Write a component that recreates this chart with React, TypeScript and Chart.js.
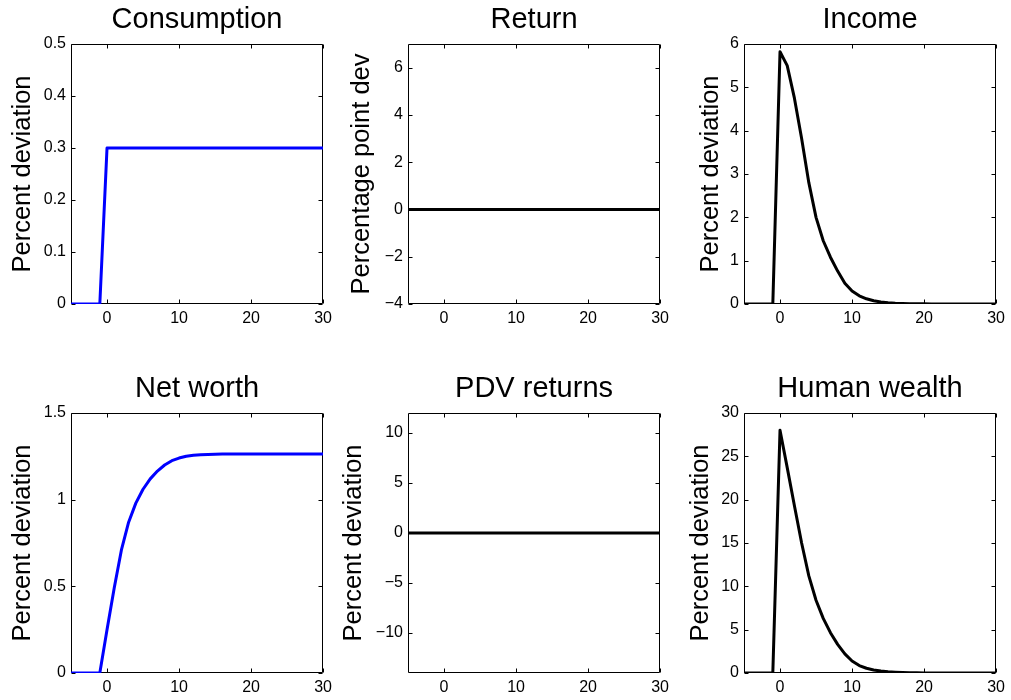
import React, { useEffect, useRef } from 'react';
import { Chart, registerables } from 'chart.js';

Chart.register(...registerables);
Chart.defaults.font.family = "'Liberation Sans', Arial, Helvetica, sans-serif";
Chart.defaults.color = '#000';

// ---- data ----
const periods = [-5, -4, -3, -2, -1, 0, 1, 2, 3, 4, 5, 6, 7, 8, 9, 10, 11, 12, 13, 14, 15, 16, 17, 18, 19, 20, 21, 22, 23, 24, 25, 26, 27, 28, 29, 30];

const consumption = [0, 0, 0, 0, 0, 0.3, 0.3, 0.3, 0.3, 0.3, 0.3, 0.3, 0.3, 0.3, 0.3, 0.3, 0.3, 0.3, 0.3, 0.3, 0.3, 0.3, 0.3, 0.3, 0.3, 0.3, 0.3, 0.3, 0.3, 0.3, 0.3, 0.3, 0.3, 0.3, 0.3, 0.3];

const returnDev = [0, 0, 0, 0, 0, 0, 0, 0, 0, 0, 0, 0, 0, 0, 0, 0, 0, 0, 0, 0, 0, 0, 0, 0, 0, 0, 0, 0, 0, 0, 0, 0, 0, 0, 0, 0];

const income = [0, 0, 0, 0, 0, 5.82, 5.5, 4.75, 3.82, 2.8, 2.0, 1.46, 1.08, 0.76, 0.48, 0.3, 0.19, 0.12, 0.075, 0.047, 0.03, 0.019, 0.012, 0.008, 0.005, 0.003, 0.002, 0.001, 0.001, 0.0005, 0.0003, 0.0002, 0.0001, 0.0001, 0, 0];

const netWorth = [0, 0, 0, 0, 0, 0.25, 0.49, 0.71, 0.87, 0.98, 1.06, 1.12, 1.165, 1.2, 1.225, 1.24, 1.25, 1.256, 1.259, 1.261, 1.262, 1.263, 1.263, 1.263, 1.263, 1.263, 1.263, 1.263, 1.263, 1.263, 1.263, 1.263, 1.263, 1.263, 1.263, 1.263];

const pdvReturns = [0, 0, 0, 0, 0, 0, 0, 0, 0, 0, 0, 0, 0, 0, 0, 0, 0, 0, 0, 0, 0, 0, 0, 0, 0, 0, 0, 0, 0, 0, 0, 0, 0, 0, 0, 0];

const humanWealth = [0, 0, 0, 0, 0, 28.0, 23.7, 19.3, 15.0, 11.2, 8.4, 6.3, 4.65, 3.3, 2.2, 1.38, 0.86, 0.55, 0.35, 0.22, 0.14, 0.09, 0.055, 0.035, 0.022, 0.014, 0.009, 0.006, 0.004, 0.002, 0.001, 0.001, 0.0005, 0.0003, 0.0002, 0.0001];

const xTicks = [0, 10, 20, 30];
const consumptionTicks = [0, 0.1, 0.2, 0.3, 0.4, 0.5];
const returnTicks = [-4, -2, 0, 2, 4, 6];
const incomeTicks = [0, 1, 2, 3, 4, 5, 6];
const netWorthTicks = [0, 0.5, 1, 1.5];
const pdvTicks = [-10, -5, 0, 5, 10];
const humanWealthTicks = [0, 5, 10, 15, 20, 25, 30];

const titles = ['Consumption', 'Return', 'Income', 'Net worth', 'PDV returns', 'Human wealth'];
const yLabels = ['Percent deviation', 'Percentage point dev', 'Percent deviation', 'Percent deviation', 'Percent deviation', 'Percent deviation'];

// ---- layout ----
const Y_AXIS_W = 70;
const PLOT_W = 254;
const PLOT_H = 260;
const TITLE_H = 44;
const X_AXIS_H = 28;
const PAD_RIGHT = 12;
const CANVAS_W = Y_AXIS_W + PLOT_W + PAD_RIGHT;
const CANVAS_H = TITLE_H + PLOT_H + X_AXIS_H;

const BLUE = '#0000ff';
const BLACK = '#000000';

type PanelSpec = {
  title: string;
  yLabel: string;
  values: number[];
  color: string;
  yMin: number;
  yMax: number;
  yTicks: number[];
  left: number;
  top: number;
  labelPad: number;
};

const panels: PanelSpec[] = [
  { title: titles[0], yLabel: yLabels[0], values: consumption, color: BLUE, yMin: 0, yMax: 0.5, yTicks: consumptionTicks, left: 1, top: 0, labelPad: 6.5 },
  { title: titles[1], yLabel: yLabels[1], values: returnDev, color: BLACK, yMin: -4, yMax: 7, yTicks: returnTicks, left: 338, top: 0, labelPad: 8.9 },
  { title: titles[2], yLabel: yLabels[2], values: income, color: BLACK, yMin: 0, yMax: 6, yTicks: incomeTicks, left: 674, top: 0, labelPad: 21.9 },
  { title: titles[3], yLabel: yLabels[3], values: netWorth, color: BLUE, yMin: 0, yMax: 1.5, yTicks: netWorthTicks, left: 1, top: 369, labelPad: 6.5 },
  { title: titles[4], yLabel: yLabels[4], values: pdvReturns, color: BLACK, yMin: -14, yMax: 12, yTicks: pdvTicks, left: 338, top: 369, labelPad: 0.5 },
  { title: titles[5], yLabel: yLabels[5], values: humanWealth, color: BLACK, yMin: 0, yMax: 30, yTicks: humanWealthTicks, left: 674, top: 369, labelPad: 11.9 },
];

const fmt = (v: number | string) => {
  const n = Number(v);
  const s = String(Math.round(Math.abs(n) * 1000) / 1000);
  return n < 0 ? '\u2212' + s : s;
};

const boxPlugin = {
  id: 'matlabBox',
  beforeDatasetsDraw(chart: any) {
    const { ctx, chartArea: a, scales } = chart;
    const x = scales.x;
    const y = scales.y;
    const L = Math.round(a.left) + 0.5;
    const R = Math.round(a.right) - 0.5;
    const T = Math.round(a.top) + 0.5;
    const B = Math.round(a.bottom) - 0.5;
    const tl = 4;
    ctx.save();
    ctx.strokeStyle = '#000';
    ctx.lineWidth = 1;
    ctx.beginPath();
    ctx.rect(L, T, R - L, B - T);
    x.ticks.forEach((t: any) => {
      const px = Math.round(x.getPixelForValue(t.value)) + 0.5;
      ctx.moveTo(px, B);
      ctx.lineTo(px, B - tl);
      ctx.moveTo(px, T);
      ctx.lineTo(px, T + tl);
    });
    y.ticks.forEach((t: any) => {
      const py = Math.round(y.getPixelForValue(t.value)) + 0.5;
      ctx.moveTo(L, py);
      ctx.lineTo(L + tl, py);
      ctx.moveTo(R, py);
      ctx.lineTo(R - tl, py);
    });
    ctx.stroke();
    ctx.restore();
  },
};

function PanelChart({ p }: { p: PanelSpec }) {
  const ref = useRef<HTMLCanvasElement>(null);
  useEffect(() => {
    if (!ref.current) return;
    const chart = new Chart(ref.current, {
      type: 'line',
      data: {
        datasets: [
          {
            data: periods.map((x, i) => ({ x, y: p.values[i] })),
            borderColor: p.color,
            backgroundColor: p.color,
            borderWidth: 3,
            borderJoinStyle: 'round',
            borderCapStyle: 'round',
            pointRadius: 0,
            tension: 0,
            fill: false,
          },
        ],
      },
      options: {
        animation: false,
        responsive: false,
        maintainAspectRatio: false,
        events: [],
        layout: { padding: { left: 0, right: PAD_RIGHT, top: 0, bottom: 0 } },
        plugins: {
          legend: { display: false },
          tooltip: { enabled: false },
          title: {
            display: true,
            text: p.title,
            fullSize: false,
            color: '#000',
            font: { size: 29, weight: 'normal', lineHeight: 1.2 },
            padding: { top: 2.2, bottom: 7.0 },
          },
        },
        scales: {
          x: {
            type: 'linear',
            min: -5,
            max: 30,
            grid: { display: false, drawTicks: false },
            border: { display: false },
            ticks: { padding: 5, font: { size: 16 }, color: '#000', callback: (v: any) => fmt(v), maxRotation: 0 },
            afterBuildTicks: (s: any) => {
              s.ticks = xTicks.map((v) => ({ value: v }));
            },
            afterFit: (s: any) => {
              s.height = X_AXIS_H;
            },
          },
          y: {
            type: 'linear',
            min: p.yMin,
            max: p.yMax,
            grid: { display: false, drawTicks: false },
            border: { display: false },
            ticks: { padding: 5, font: { size: 16 }, color: '#000', callback: (v: any) => fmt(v) },
            afterBuildTicks: (s: any) => {
              s.ticks = p.yTicks.map((v) => ({ value: v }));
            },
            afterFit: (s: any) => {
              s.width = Y_AXIS_W;
            },
            title: {
              display: true,
              text: p.yLabel,
              color: '#000',
              font: { size: 25.5, lineHeight: 1.2 },
              padding: { top: p.labelPad, bottom: 0 },
            },
          },
        },
      } as any,
      plugins: [boxPlugin],
    });
    return () => chart.destroy();
  }, [p]);
  return (
    <canvas
      ref={ref}
      width={CANVAS_W}
      height={CANVAS_H}
      style={{ position: 'absolute', left: p.left, top: p.top, width: CANVAS_W, height: CANVAS_H }}
    />
  );
}

export default function App() {
  return (
    <div
      style={{
        position: 'absolute',
        left: 0,
        top: 0,
        width: 1011,
        height: 700,
        background: '#fff',
        overflow: 'hidden',
      }}
    >
      {panels.map((p) => (
        <PanelChart key={p.title} p={p} />
      ))}
    </div>
  );
}
